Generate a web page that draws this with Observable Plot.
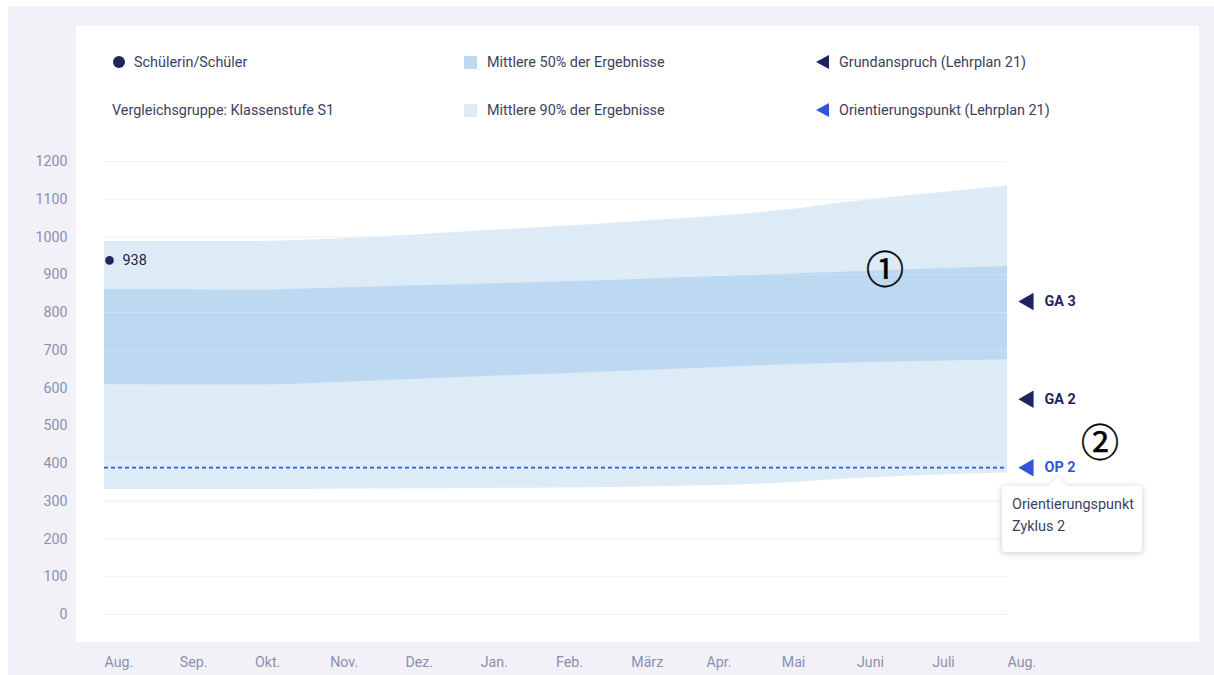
<!DOCTYPE html>
<html>
<head>
<meta charset="utf-8">
<script src="https://cdn.jsdelivr.net/npm/d3@7"></script>
<script src="https://cdn.jsdelivr.net/npm/@observablehq/plot@0.6"></script>
<style>
  html, body { margin: 0; padding: 0; background: #ffffff; }
  body { width: 1214px; height: 675px; overflow: hidden; font-family: Roboto, "Noto Sans", sans-serif; }
  #frame { position: absolute; left: 8px; top: 6px; width: 1206px; height: 669px; background: #f2f1f7; }
  #panel { position: absolute; left: 76px; top: 26px; width: 1123px; height: 616px; background: #ffffff; }
  #chart { position: absolute; left: 0; top: 0; }
  .lg { position: absolute; font-size: 14.4px; color: #3b3f63; line-height: 16px; white-space: nowrap; }
  .sw { position: absolute; }
  #tip { position: absolute; left: 1002px; top: 486px; width: 140px; height: 66px; background: #fff;
         border-radius: 4px; box-shadow: 0 1px 6px rgba(40,40,80,0.25); }
  #tip:before { content: ""; position: absolute; left: 50px; top: -7px; width: 12px; height: 12px; background: #fff;
         transform: rotate(45deg); box-shadow: -2px -2px 3px rgba(40,40,80,0.08); }
  #tip div { position: absolute; left: 10px; font-size: 14.4px; color: #3b3f63; white-space: nowrap; }
  .circ { position: absolute; font-family: "Noto Sans CJK JP", "DejaVu Sans", sans-serif; font-size: 38px; color: #000; line-height: 1;
          -webkit-text-stroke: 0.5px #000; }
</style>
</head>
<body>
<div id="frame"></div>
<div id="panel"></div>
<div id="legend"></div>
<div id="chart"></div>
<div id="tip"><div style="top:10px">Orientierungspunkt</div><div style="top:32px">Zyklus 2</div></div>
<div class="circ" style="left:866px; top:248px;">①</div>
<div class="circ" style="left:1081px; top:421px;">②</div>
<script>
// ---- data ----
const months = ["Aug.", "Sep.", "Okt.", "Nov.", "Dez.", "Jan.", "Feb.", "März", "Apr.", "Mai", "Juni", "Juli", "Aug. "];
const p90Upper = [988, 988, 988, 994, 1004, 1016, 1027, 1040, 1053, 1070, 1095, 1115, 1136];
const p90Lower = [331, 331, 331, 332, 333, 334, 335, 337, 341, 348, 360, 369, 375];
const p50Upper = [861, 860, 859, 864, 870, 875, 881, 887, 894, 901, 908, 915, 922];
const p50Lower = [609, 608, 608, 614, 622, 630, 637, 645, 653, 661, 667, 671, 675];
const studentScore = 938;
const studentMonth = "Aug.";
const refLabels = ["GA 3", "GA 2", "OP 2"];
const refValues = [829, 570, 389];
const refKinds = ["GA", "GA", "OP"];
const yTicks = [0, 100, 200, 300, 400, 500, 600, 700, 800, 900, 1000, 1100, 1200];
const legendLeft = [{label: "Schülerin/Schüler", kind: "dot"}, {label: "Vergleichsgruppe: Klassenstufe S1", kind: "none"}];
const legendMid = ["Mittlere 50% der Ergebnisse", "Mittlere 90% der Ergebnisse"];
const legendRight = ["Grundanspruch (Lehrplan 21)", "Orientierungspunkt (Lehrplan 21)"];

// ---- colors ----
const NAVY = "#1f2460";
const BLUE = "#3356d9";
const C50 = "#bdd8f1";
const C90 = "#ddebf7";
const AXIS = "#8b8fb0";

// ---- table ----
const rows = months.map((m, i) => ({m, i, u90: p90Upper[i], l90: p90Lower[i], u50: p50Upper[i], l50: p50Lower[i]}));
const refs = refLabels.map((l, i) => ({label: l, value: refValues[i], kind: refKinds[i]}));
const opValue = refValues[refKinds.indexOf("OP")];

const chart = Plot.plot({
  width: 1214,
  height: 675,
  marginLeft: 104,
  marginRight: 207,
  marginTop: 161,
  marginBottom: 61,
  style: {background: "transparent", fontFamily: "Roboto, sans-serif", fontSize: "14px", overflow: "visible"},
  x: {domain: [0, months.length - 1], axis: null},
  y: {domain: [0, 1200], axis: null},
  marks: [
    Plot.ruleY(yTicks, {stroke: "#eceef5", strokeWidth: 1}),
    Plot.areaY(rows, {x: "i", y1: "l90", y2: "u90", fill: C90, curve: "monotone-x"}),
    Plot.areaY(rows, {x: "i", y1: "l50", y2: "u50", fill: C50, curve: "monotone-x"}),
    Plot.ruleY(yTicks.filter(t => t > 0), {stroke: "#ffffff", strokeOpacity: 0.25, strokeWidth: 1}),
    Plot.ruleY([opValue], {stroke: BLUE, strokeWidth: 1.6, strokeDasharray: "4,3"}),
    // y tick labels
    Plot.text(yTicks, {x: 0, y: d => d, text: d => String(d), dx: -37, textAnchor: "end", fill: AXIS, fontSize: 14.2}),
    // x tick labels
    Plot.text(months, {x: (d, i) => i, y: 0, text: d => d.trim(), dy: 48, textAnchor: "start", fill: AXIS, fontSize: 14.2}),
    // student point
    Plot.dot([{i: months.indexOf(studentMonth), v: studentScore}], {x: "i", y: "v", r: 4.3, fill: NAVY, dx: 5}),
    Plot.text([{i: months.indexOf(studentMonth), v: studentScore}], {x: "i", y: "v", text: d => String(d.v), dx: 18, textAnchor: "start", fill: "#1f2340", fontSize: 14.4}),
    // reference markers
    Plot.dot(refs, {x: months.length - 1, y: "value", symbol: "triangle", rotate: -90, r: 6.5, fill: d => d.kind === "GA" ? NAVY : BLUE, dx: 21}),
    Plot.text(refs, {x: months.length - 1, y: "value", text: "label", dx: 37, textAnchor: "start", fontWeight: "bold", fill: d => d.kind === "GA" ? NAVY : BLUE, fontSize: 14.4})
  ]
});
document.getElementById("chart").appendChild(chart);

// ---- legend ----
const lg = document.getElementById("legend");
function add(html) { lg.insertAdjacentHTML("beforeend", html); }
const rowY = [55, 103];
legendLeft.forEach((d, k) => {
  if (d.kind === "dot") {
    add(`<div class="sw" style="left:113px; top:${rowY[k] + 1}px; width:12px; height:12px; border-radius:50%; background:${NAVY}"></div>`);
    add(`<div class="lg" style="left:134px; top:${rowY[k]}px">${d.label}</div>`);
  } else {
    add(`<div class="lg" style="left:112px; top:${rowY[k]}px">${d.label}</div>`);
  }
});
legendMid.forEach((l, k) => {
  add(`<div class="sw" style="left:464px; top:${rowY[k] + 1}px; width:13px; height:13px; background:${k === 0 ? C50 : C90}"></div>`);
  add(`<div class="lg" style="left:487px; top:${rowY[k]}px">${l}</div>`);
});
legendRight.forEach((l, k) => {
  add(`<svg class="sw" style="left:816px; top:${rowY[k]}px" width="14" height="14"><polygon points="13,0 13,14 0,7" fill="${k === 0 ? NAVY : BLUE}"/></svg>`);
  add(`<div class="lg" style="left:839px; top:${rowY[k]}px">${l}</div>`);
});
</script>
</body>
</html>
